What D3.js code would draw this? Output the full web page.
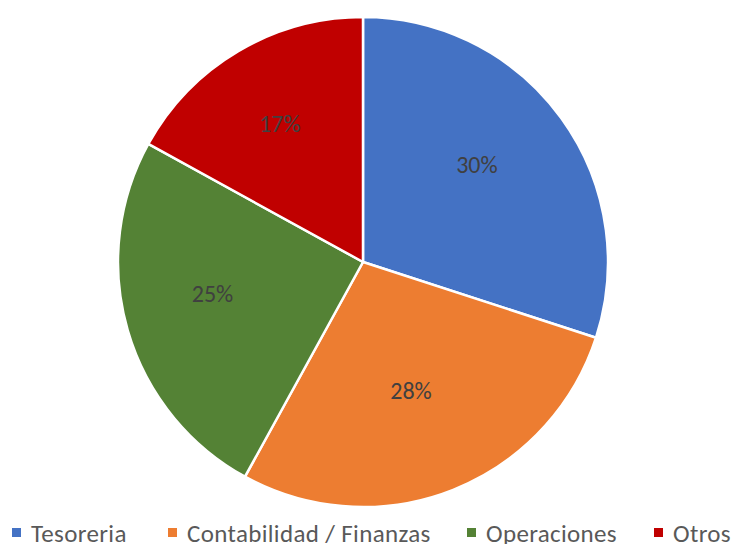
<!DOCTYPE html>
<html>
<head>
<meta charset="utf-8">
<script src="https://cdn.jsdelivr.net/npm/d3@7"></script>
<style>
  body { margin: 0; background: #fff; }
  text { font-family: Carlito, "Open Sans", sans-serif; }
</style>
</head>
<body>
<div class="pie-chart"></div>
<script>
var categories = ["Tesoreria", "Contabilidad / Finanzas", "Operaciones", "Otros"];
var values = [30, 28, 25, 17];
var colors = ["#4472c4", "#ed7d31", "#548235", "#c00000"];

var w = 732;
var h = 544;
var cx = 363, cy = 262;
var outerRadius = 245;

var pie = d3.pie().sort(null);
var pieDataset = pie(values);
var total = d3.sum(values);

var arc = d3.arc()
            .innerRadius(0)
            .outerRadius(outerRadius);
var labelArc = d3.arc()
            .innerRadius(outerRadius * 0.61)
            .outerRadius(outerRadius * 0.61);

var svg = d3.select(".pie-chart")
            .append("svg")
            .attr("width", w)
            .attr("height", h);

var arcs = svg.selectAll("g.arc")
              .data(pieDataset)
              .enter()
              .append("g")
              .attr("class", "arc")
              .attr("transform", "translate(" + cx + ", " + cy + ")");

arcs.append("path")
    .attr("fill", function(d, i) { return colors[i]; })
    .attr("stroke", "#fff")
    .attr("stroke-width", 2.5)
    .attr("stroke-linejoin", "round")
    .attr("d", arc);

// Percent labels, nudged up-left a bit like the original
arcs.append("text")
    .attr("transform", function(d) {
      var c = labelArc.centroid(d);
      return "translate(" + (c[0] - 7) + "," + (c[1] - 10) + ")";
    })
    .attr("text-anchor", "middle")
    .attr("dy", "0.35em")
    .attr("fill", "#404040")
    .attr("font-size", 24)
    .text(function(d) {
      return Math.round(d.value / total * 100) + "%";
    });

// Legend
var legendX = [12, 168, 467, 654];
var legend = svg.selectAll("g.legend")
                .data(categories)
                .enter()
                .append("g")
                .attr("class", "legend")
                .attr("transform", function(d, i) {
                  return "translate(" + legendX[i] + ", 542)";
                });

legend.append("rect")
      .attr("x", 0)
      .attr("y", -14)
      .attr("width", 9)
      .attr("height", 9)
      .attr("fill", function(d, i) { return colors[i]; });

legend.append("text")
      .attr("x", 19)
      .attr("y", 0)
      .attr("fill", "#595959")
      .attr("font-size", 25)
      .attr("letter-spacing", 0.35)
      .text(function(d) { return d; });
</script>
</body>
</html>
